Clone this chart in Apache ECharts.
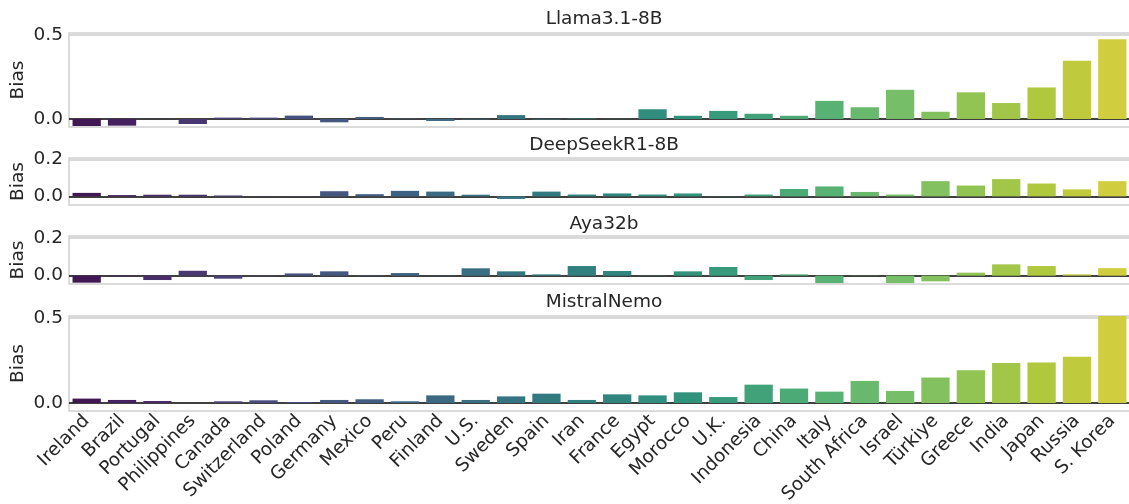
<!DOCTYPE html>
<html>
<head>
<meta charset="utf-8">
<script src="https://cdn.jsdelivr.net/npm/echarts@6/dist/echarts.min.js"></script>
<style>
  html, body { margin: 0; padding: 0; background: #fff; }
  #chart { width: 1129px; height: 504px; }
</style>
</head>
<body>
<div id="chart"></div>
<script>
const countries = ['Ireland', 'Brazil', 'Portugal', 'Philippines', 'Canada', 'Switzerland', 'Poland', 'Germany', 'Mexico', 'Peru',
  'Finland', 'U.S.', 'Sweden', 'Spain', 'Iran', 'France', 'Egypt', 'Morocco', 'U.K.', 'Indonesia',
  'China', 'Italy', 'South Africa', 'Israel', 'Türkiye', 'Greece', 'India', 'Japan', 'Russia', 'S. Korea'];

const llama = [-0.042, -0.04, 0.001, -0.03, 0.008, 0.008, 0.02, -0.02, 0.012, 0.002,
  -0.012, -0.003, 0.023, -0.003, 0.003, 0.001, 0.058, 0.019, 0.048, 0.031,
  0.019, 0.108, 0.07, 0.174, 0.043, 0.159, 0.095, 0.188, 0.347, 0.475];

const deepseek = [0.019, 0.007, 0.009, 0.009, 0.005, 0.001, 0.001, 0.028, 0.012, 0.03,
  0.026, 0.009, -0.014, 0.026, 0.01, 0.016, 0.01, 0.016, 0.001, 0.01,
  0.04, 0.054, 0.024, 0.01, 0.083, 0.059, 0.094, 0.07, 0.038, 0.083];

const aya = [-0.037, -0.003, -0.023, 0.026, -0.016, -0.002, 0.012, 0.023, 0.002, 0.014,
  0.001, 0.039, 0.023, 0.007, 0.051, 0.025, 0.001, 0.023, 0.046, -0.023,
  0.007, -0.039, 0.001, -0.039, -0.03, 0.016, 0.06, 0.051, 0.007, 0.04];

const mistral = [0.026, 0.018, 0.012, 0.001, 0.01, 0.016, 0.006, 0.018, 0.022, 0.01,
  0.045, 0.018, 0.039, 0.055, 0.018, 0.051, 0.045, 0.063, 0.035, 0.108,
  0.085, 0.067, 0.13, 0.071, 0.15, 0.193, 0.236, 0.238, 0.272, 0.53];

const modelNames = ['Llama3.1-8B', 'DeepSeekR1-8B', 'Aya32b', 'MistralNemo'];
const yTicks = [0.5, 0.2, 0.2, 0.5];

// viridis sampled like seaborn, then desaturated to 0.75
const viridisStops = ['#440154', '#482475', '#414487', '#355f8d', '#2a788e', '#21918c',
  '#22a884', '#44bf70', '#7ad151', '#bddf26', '#fde725'];

function hexToRgb(h) {
  return [parseInt(h.slice(1, 3), 16), parseInt(h.slice(3, 5), 16), parseInt(h.slice(5, 7), 16)];
}

function viridis(t) {
  const p = t * 10;
  const i = Math.min(9, Math.floor(p));
  const f = p - i;
  const a = hexToRgb(viridisStops[i]), b = hexToRgb(viridisStops[i + 1]);
  return a.map((v, k) => (v + (b[k] - v) * f) / 255);
}

function desaturate(rgb, prop) {
  const [r, g, b] = rgb;
  const mx = Math.max(r, g, b), mn = Math.min(r, g, b);
  const l = (mx + mn) / 2;
  let s = 0, h = 0;
  if (mx !== mn) {
    const d = mx - mn;
    s = l > 0.5 ? d / (2 - mx - mn) : d / (mx + mn);
    if (mx === r) h = ((g - b) / d + (g < b ? 6 : 0)) / 6;
    else if (mx === g) h = ((b - r) / d + 2) / 6;
    else h = ((r - g) / d + 4) / 6;
  }
  s *= prop;
  const hue2rgb = (p, q, t) => {
    if (t < 0) t += 1;
    if (t > 1) t -= 1;
    if (t < 1 / 6) return p + (q - p) * 6 * t;
    if (t < 1 / 2) return q;
    if (t < 2 / 3) return p + (q - p) * (2 / 3 - t) * 6;
    return p;
  };
  const q = l < 0.5 ? l * (1 + s) : l + s - l * s;
  const p = 2 * l - q;
  const out = s === 0 ? [l, l, l] : [hue2rgb(p, q, h + 1 / 3), hue2rgb(p, q, h), hue2rgb(p, q, h - 1 / 3)];
  return 'rgb(' + out.map(v => Math.round(v * 255)).join(',') + ')';
}

const n = countries.length;
const barColors = countries.map((c, i) => desaturate(viridis((i + 1) / (n + 1)), 0.75));

const allData = [llama, deepseek, aya, mistral];

// panel frames (px)
const panels = [
  { top: 33, height: 94, min: -0.048, max: 0.513, titleTop: 5 },
  { top: 158, height: 47, min: -0.047, max: 0.209, titleTop: 131 },
  { top: 236, height: 48, min: -0.044, max: 0.21, titleTop: 210 },
  { top: 316, height: 95, min: -0.047, max: 0.512, titleTop: 288 }
];

const textColor = '#262626';
const font = 'DejaVu Sans';
const fs = 18.5;

var chartDom = document.getElementById('chart');
var myChart = echarts.init(chartDom);

const option = {
  animation: false,
  backgroundColor: '#fff',
  title: panels.map((p, i) => ({
    text: modelNames[i],
    left: 599,
    top: p.titleTop,
    textAlign: 'center',
    textStyle: { fontFamily: font, fontSize: fs, fontWeight: 'normal', color: textColor }
  })),
  grid: panels.map(p => ({
    left: 69,
    top: p.top,
    width: 1061,
    height: p.height,
    containLabel: false,
    outerBoundsMode: 'none',
    show: true,
    borderColor: '#d0d0d0',
    borderWidth: 1.5,
    backgroundColor: '#fff'
  })),
  xAxis: panels.map((p, i) => ({
    type: 'category',
    gridIndex: i,
    data: countries,
    axisLine: { show: false },
    axisTick: { show: false },
    splitLine: { show: false },
    axisLabel: i === 3 ? {
      show: true,
      rotate: 45,
      interval: 0,
      margin: 7,
      fontFamily: font,
      fontSize: fs,
      color: textColor
    } : { show: false }
  })),
  yAxis: panels.map((p, i) => ({
    type: 'value',
    gridIndex: i,
    min: p.min,
    max: p.max,
    name: 'Bias',
    nameLocation: 'middle',
    nameGap: 41,
    nameMoveOverlap: false,
    nameTextStyle: { fontFamily: font, fontSize: fs, color: textColor },
    axisLine: { show: false },
    axisTick: { show: false },
    splitLine: { show: false },
    axisLabel: {
      customValues: [0, yTicks[i]],
      formatter: v => v.toFixed(1),
      margin: 6,
      fontFamily: font,
      fontSize: fs,
      color: textColor
    }
  })),
  series: allData.map((d, i) => ({
    type: 'bar',
    xAxisIndex: i,
    yAxisIndex: i,
    data: d.map((v, k) => ({ value: v, itemStyle: { color: barColors[k] } })),
    barCategoryGap: '20%',
    clip: true,
    markLine: {
      silent: true,
      symbol: 'none',
      label: { show: false },
      z: 1,
      data: [
        { yAxis: yTicks[i], lineStyle: { color: '#cccccc', width: 1.5, type: 'solid' } },
        { yAxis: 0, lineStyle: { color: '#000', width: 1.5, type: 'solid' } }
      ]
    }
  }))
};

myChart.setOption(option);
</script>
</body>
</html>
